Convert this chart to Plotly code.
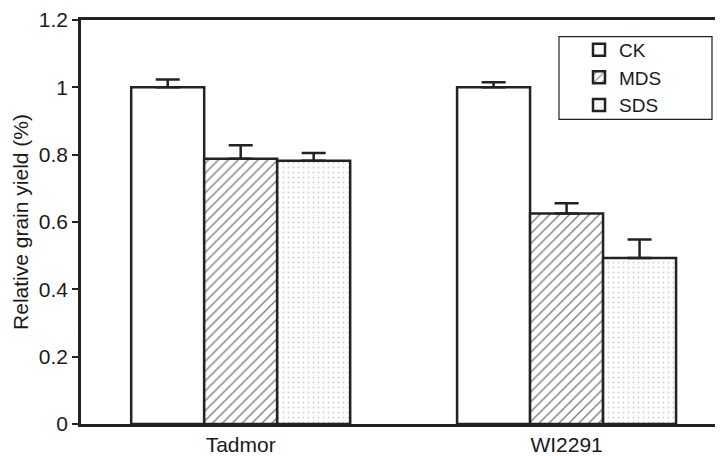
import plotly.graph_objects as go

categories = ["Tadmor", "WI2291"]
series_names = ["CK", "MDS", "SDS"]
ck_values = [1.0, 1.0]
ck_errors = [0.023, 0.015]
mds_values = [0.788, 0.625]
mds_errors = [0.040, 0.031]
sds_values = [0.782, 0.493]
sds_errors = [0.023, 0.055]
y_tick_values = [0, 0.2, 0.4, 0.6, 0.8, 1.0, 1.2]
y_tick_labels = ["0", "0.2", "0.4", "0.6", "0.8", "1", "1.2"]

DARK = "#222222"
FONT = "Liberation Sans, Arial, Helvetica, sans-serif"

patterns = [
    dict(shape=""),
    dict(shape="/", fgcolor="#000000", bgcolor="white", size=7, solidity=0.2),
    dict(shape=".", fgcolor="#a0a0a0", bgcolor="white", size=5, solidity=0.12),
]
values = [ck_values, mds_values, sds_values]
errors = [ck_errors, mds_errors, sds_errors]

fig = go.Figure()
for name, vals, errs, pat in zip(series_names, values, errors, patterns):
    fig.add_trace(go.Bar(
        x=categories, y=vals, name=name,
        marker=dict(color="white", line=dict(color=DARK, width=2.5), pattern=pat),
        error_y=dict(type="data", array=errs, visible=True, color=DARK,
                     thickness=2.5, width=12, symmetric=False, arrayminus=[0, 0]),
    ))

# page body has an 8px margin: compensate so the plot lands where the reference has it
W, H = 715, 448
L, T, B, R = 73, 9, 28, 0
PW = W - L - R
PH = H - T - B

def px_x(x):
    return (x - 8 - L) / PW

def px_y(y):
    return (H - B - (y - 8)) / PH

fig.update_layout(
    width=W, height=H,
    margin=dict(l=L, r=R, t=T, b=B, pad=0),
    paper_bgcolor="white", plot_bgcolor="white",
    barmode="group", bargap=0.328, bargroupgap=0,
    font=dict(family=FONT, size=21, color="#1a1a1a"),
    showlegend=True,
    legend=dict(x=px_x(579), y=px_y(28), xanchor="left", yanchor="top",
                bgcolor="rgba(0,0,0,0)", borderwidth=0,
                font=dict(size=19, family=FONT, color="#1a1a1a"),
                tracegroupgap=0),
    xaxis=dict(range=[-0.49, 1.48], showline=True, linecolor=DARK, linewidth=2.5,
               mirror=True, ticks="", showgrid=False, zeroline=False,
               tickfont=dict(size=21), fixedrange=True, ticklabeloverflow="allow"),
    yaxis=dict(range=[0, 1.2], tickvals=y_tick_values, ticktext=y_tick_labels,
               showline=True, linecolor=DARK, linewidth=2.5, ticks="outside",
               ticklen=6, tickwidth=1.5, tickcolor=DARK, showgrid=False,
               zeroline=False, tickfont=dict(size=21), ticklabeloverflow="allow",
               title=dict(text="Relative grain yield (%)", font=dict(size=21), standoff=5)),
    shapes=[dict(type="rect", xref="paper", yref="paper",
                 x0=px_x(559), x1=px_x(712), y0=px_y(118), y1=px_y(34),
                 line=dict(color=DARK, width=1.2), fillcolor="rgba(0,0,0,0)", layer="above")],
)

fig.write_html("out.html")
